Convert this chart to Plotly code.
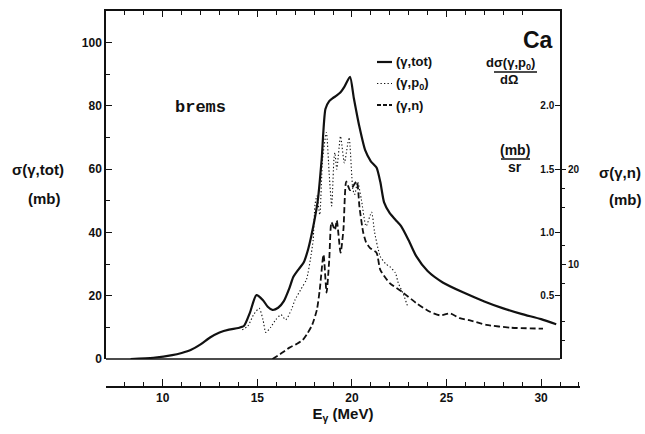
import plotly.graph_objects as go

# ---------------- data ----------------
E_tot = [8.3, 9.5, 10.5, 11.0, 11.5, 12.0, 12.5, 13.0, 13.5, 14.0, 14.3, 14.6, 14.95,
         15.3, 15.55, 15.8, 16.1, 16.4, 16.7, 16.9, 17.2, 17.45, 17.7, 17.95, 18.2,
         18.4, 18.6, 18.8, 19.0, 19.2, 19.4, 19.6, 19.9, 20.1, 20.4, 20.7, 21.0, 21.3,
         21.5, 21.7, 22.0, 22.3, 22.6, 23.0, 23.4, 24.0, 24.8, 25.9, 27.0, 28.0, 29.0,
         30.0, 30.8]
sig_tot = [0, 0.4, 1.2, 1.9, 2.9, 4.6, 6.8, 8.4, 9.3, 9.8, 10.5, 14.5, 20.2,
           18.6, 16.5, 15.5, 16.2, 18.3, 22.5, 25.9, 28.5, 30.5, 35.0, 41.7, 50.3,
           63.0, 79.0, 81.5, 82.5, 83.3, 84.3, 86.0, 89.2, 82.5, 73.3, 66.0, 62.5, 60.5,
           56.0, 49.5, 46.1, 44.0, 42.0, 37.5, 32.5, 27.8, 24.2, 21.0, 18.2, 16.0, 14.2,
           12.6, 11.0]

E_p0 = [14.2, 14.5, 14.8, 15.1, 15.3, 15.45, 15.7, 15.97, 16.25, 16.5, 16.8, 17.0,
        17.3, 17.6, 17.85, 17.95, 18.05, 18.15, 18.3, 18.45, 18.65, 18.8, 18.93, 19.05,
        19.1, 19.2, 19.4, 19.6, 19.85, 20.05, 20.15, 20.3, 20.5, 20.75, 21.04, 21.2,
        21.5, 21.8, 22.0, 22.3, 22.45, 22.7, 22.96]
dsig_p0 = [0.23, 0.26, 0.35, 0.40, 0.31, 0.21, 0.25, 0.31, 0.35, 0.31, 0.39, 0.47,
           0.55, 0.63, 0.83, 0.94, 1.22, 1.29, 1.14, 1.58, 1.79, 1.46, 1.21, 1.58,
           1.63, 1.50, 1.76, 1.55, 1.75, 1.34, 1.30, 1.40, 1.26, 1.05, 1.16, 1.00,
           0.81, 0.75, 0.73, 0.68, 0.60, 0.52, 0.41]

E_n = [15.8, 16.2, 16.7, 17.1, 17.4, 17.65, 17.9, 18.15, 18.3, 18.5, 18.66, 18.8,
       18.92, 19.1, 19.2, 19.4, 19.55, 19.7, 19.9, 20.25, 20.4, 20.6, 20.75, 20.95,
       21.3, 21.5, 22.0, 22.7, 23.4, 24.1, 24.66, 25.2, 25.7, 26.2, 27.1, 28.4, 30.1]
sig_n = [0.0, 0.5, 1.2, 1.6, 2.0, 2.7, 3.6, 5.2, 7.3, 11.0, 7.0, 10.4,
         14.4, 13.6, 14.6, 11.2, 13.6, 18.7, 17.8, 18.7, 16.0, 13.3, 12.3, 11.7,
         11.2, 9.4, 8.0, 7.0, 5.9, 5.0, 4.6, 4.8, 4.3, 4.1, 3.6, 3.3, 3.2]

x_ticks = [10, 15, 20, 25, 30]
y_tot_ticks = [0, 20, 40, 60, 80, 100]
y_p0_ticks = [0.5, 1.0, 1.5, 2.0]
y_p0_ticktext = ["0.5", "1.0", "1.5", "2.0"]
y_n_ticks = [10, 20]
y_n_minor = [2, 4, 8, 12, 16, 18]

# ---------------- layout geometry ----------------
W, H = 645, 434
ML, MR, MT, MB = 106, 65, 11, 47
PW, PH = W - ML - MR, H - MT - MB
FRAME_R = 560
FRAME_B = 359
X_DOM_END = (FRAME_R - ML) / PW
Y_DOM_START = (H - MB - FRAME_B) / PH
TOT_MAX = 110.0
X_RANGE = [7, 31]
X2_RANGE = [7, 7 + (X_RANGE[1] - X_RANGE[0]) / X_DOM_END]


def px(x):
    return (x - ML) / PW


def py(y):
    return (H - MB - y) / PH


FONT = "Liberation Sans, Arial, sans-serif"
BLACK = "#111111"
DOT = "1.3px,2.2px"
DASH = "6px,3px"

fig = go.Figure()
fig.add_trace(go.Scatter(x=E_tot, y=sig_tot, mode="lines", name="(γ,tot)",
                         line=dict(color=BLACK, width=2.2, shape="spline", smoothing=0.6),
                         xaxis="x", yaxis="y", showlegend=False))
fig.add_trace(go.Scatter(x=E_p0, y=dsig_p0, mode="lines", name="(γ,p0)",
                         line=dict(color=BLACK, width=1.1, dash=DOT, shape="spline", smoothing=0.6),
                         xaxis="x", yaxis="y2", showlegend=False))
fig.add_trace(go.Scatter(x=E_n, y=sig_n, mode="lines", name="(γ,n)",
                         line=dict(color=BLACK, width=1.8, dash=DASH, shape="spline", smoothing=0.6),
                         xaxis="x", yaxis="y3", showlegend=False))
fig.add_trace(go.Scatter(x=[None], y=[None], xaxis="x2", yaxis="y", showlegend=False,
                         hoverinfo="skip"))

tickfont = dict(family=FONT, size=12, color=BLACK, weight="bold")
smallfont = dict(family=FONT, size=10, color=BLACK, weight="bold")

fig.update_layout(
    width=W, height=H,
    margin=dict(l=ML, r=MR, t=MT, b=MB, pad=0),
    paper_bgcolor="white", plot_bgcolor="rgba(0,0,0,0)",
    showlegend=False, hovermode=False,
    xaxis=dict(domain=[0, X_DOM_END], range=X_RANGE, anchor="y", side="top",
               showline=True, linecolor=BLACK, linewidth=1.5, mirror=False,
               ticks="inside", ticklen=6, tickwidth=1.2, tickcolor=BLACK, dtick=5, tick0=0,
               minor=dict(dtick=1, ticks="inside", ticklen=4, tickcolor=BLACK, tickwidth=1.2,
                          showgrid=False),
               showticklabels=False, showgrid=False, zeroline=False),
    xaxis2=dict(domain=[0, 1], range=X2_RANGE, anchor="free", position=0,
                showline=True, linecolor=BLACK, linewidth=1.5,
                ticks="inside", ticklen=7, tickwidth=1.3, tickcolor=BLACK,
                tickvals=x_ticks, tickfont=tickfont,
                minor=dict(dtick=1, tick0=0, ticks="inside", ticklen=4, tickcolor=BLACK,
                           tickwidth=1.2, showgrid=False),
                showgrid=False, zeroline=False,
                title=dict(text="E<sub>γ</sub> (MeV)", font=dict(family=FONT, size=15,
                           color=BLACK, weight="bold"), standoff=2)),
    yaxis=dict(domain=[Y_DOM_START, 1], range=[0, TOT_MAX], anchor="x", side="left",
               showline=True, linecolor=BLACK, linewidth=1.5,
               ticks="inside", ticklen=6, tickwidth=1.2, tickcolor=BLACK,
               tickvals=y_tot_ticks, tickfont=tickfont,
               minor=dict(dtick=10, tick0=0, ticks="inside", ticklen=4, tickcolor=BLACK,
                          tickwidth=1.2, showgrid=False),
               showgrid=False, zeroline=False),
    yaxis2=dict(overlaying="y", anchor="x", side="right", range=[0, TOT_MAX / 40.0],
                showline=True, linecolor=BLACK, linewidth=1.5,
                ticks="inside", ticklen=5, tickwidth=1.2, tickcolor=BLACK,
                tickvals=y_p0_ticks, ticktext=y_p0_ticktext,
                ticklabelposition="inside", tickfont=smallfont,
                showgrid=False, zeroline=False),
    yaxis3=dict(overlaying="y", anchor="x", side="right", range=[0, TOT_MAX / 3.0],
                showline=False, ticks="outside", ticklen=5, tickwidth=1.2, tickcolor=BLACK,
                tickvals=y_n_ticks, tickfont=smallfont,
                minor=dict(tickvals=y_n_minor, ticks="outside", ticklen=4, tickcolor=BLACK,
                           tickwidth=1.2, showgrid=False),
                showgrid=False, zeroline=False),
)

# bottom edge of the frame
fig.add_shape(type="line", xref="x domain", yref="y domain", x0=0, x1=1, y0=0, y1=0,
              line=dict(color=BLACK, width=1.5))


def text(x, y, s, size=14, xanchor="center", family=FONT):
    fig.add_annotation(x=px(x), y=py(y), xref="paper", yref="paper", text=s,
                       showarrow=False, xanchor=xanchor, yanchor="middle",
                       font=dict(family=family, size=size, color=BLACK, weight="bold"))


text(538, 40, "Ca", size=23)
text(510, 63, "dσ(γ,p<sub>0</sub>)", size=13)
fig.add_shape(type="line", xref="paper", yref="paper", x0=px(494), x1=px(537),
              y0=py(72), y1=py(72), line=dict(color=BLACK, width=1.5))
text(509, 80, "dΩ", size=13)
text(515, 150, "(mb)", size=14)
fig.add_shape(type="line", xref="paper", yref="paper", x0=px(501), x1=px(530),
              y0=py(159), y1=py(159), line=dict(color=BLACK, width=1.5))
text(515, 167, "sr", size=14)
text(643, 172, "σ(γ,n)", size=15, xanchor="right")
text(644, 199, "(mb)", size=15, xanchor="right")
text(38, 169, "σ(γ,tot)", size=15)
text(45, 198, "(mb)", size=15)
text(200, 107, "brems", size=17, family="Liberation Mono, Courier New, monospace")

# legend
legend_items = [("(γ,tot)", "solid", 2.2), ("(γ,p<sub>0</sub>)", DOT, 1.1),
                ("(γ,n)", "4px,2px", 1.8)]
for i, (lab, dash, w) in enumerate(legend_items):
    yy = 62 + i * 21.5
    fig.add_shape(type="line", xref="paper", yref="paper", x0=px(377), x1=px(392),
                  y0=py(yy), y1=py(yy), line=dict(color=BLACK, width=w, dash=dash))
    text(394, yy, lab, size=13, xanchor="left")

fig.write_html("out.html", config={"displayModeBar": False},
               post_script="document.body.style.margin='0';")
